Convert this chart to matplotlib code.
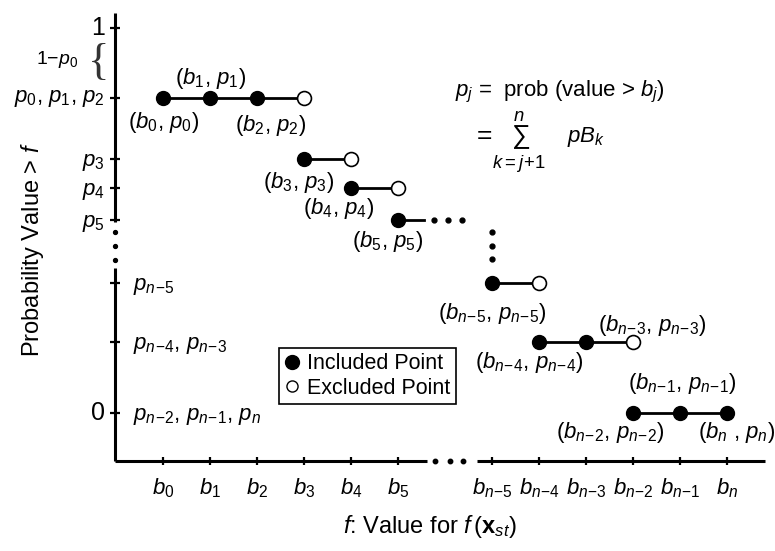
import matplotlib
matplotlib.use("Agg")
import matplotlib.pyplot as plt
from matplotlib.lines import Line2D

plt.rcParams['font.family'] = ['Liberation Sans', 'DejaVu Sans']
plt.rcParams['mathtext.fontset'] = 'custom'
plt.rcParams['mathtext.rm'] = 'Liberation Sans'
plt.rcParams['mathtext.it'] = 'Liberation Sans:italic'
plt.rcParams['mathtext.bf'] = 'Liberation Sans:bold'

# break-point positions on the f axis (gap of two slots for the "...")
b_pos = [0, 1, 2, 3, 4, 5, 7, 8, 9, 10, 11, 12]
b_names = ['0', '1', '2', '3', '4', '5', r'n\!-\!5', r'n\!-\!4', r'n\!-\!3',
           r'n\!-\!2', r'n\!-\!1', 'n']

# probability levels of the steps
p_levels = [0.818, 0.660, 0.584, 0.501, 0.338, 0.184, 0.0]
step_filled = [[0, 1, 2], [3], [4], [5], [7], [8, 9], [10, 11, 12]]
step_open = [3, 4, 5, None, 8, 10, None]
step5_end = 5.55
hdots_x = [5.77, 6.06, 6.36]
vdots_y = [0.470, 0.434, 0.400]

# axis pieces
yaxis_top = [1.039, 0.496]
yaxis_bot = [0.377, -0.125]
yaxis_dots = [0.470, 0.434, 0.397]
xaxis_left = [-1.02, 5.62]
xaxis_right = [6.68, 12.81]
xaxis_dots = [5.79, 6.11, 6.38]
ytick_vals = [1.0, 0.818, 0.660, 0.584, 0.501, 0.338, 0.184, 0.0]

fig = plt.figure(figsize=(7.75, 5.51), dpi=100)
ax = fig.add_axes([0, 0, 1, 1])
ax.set_xlim(-3.47, 13.02)
ax.set_ylim(-0.358, 1.073)
ax.axis('off')

x0 = xaxis_left[0]
y0 = yaxis_bot[1]

# axes
ax.plot([x0, x0], yaxis_top, color='black', lw=2.2, solid_capstyle='butt')
ax.plot([x0, x0], yaxis_bot, color='black', lw=2.2, solid_capstyle='butt')
ax.plot([x0] * 3, yaxis_dots, 'o', color='black', ms=2.8)
ax.plot(xaxis_left, [y0, y0], color='black', lw=2.2, solid_capstyle='butt')
ax.plot(xaxis_right, [y0, y0], color='black', lw=2.2, solid_capstyle='butt')
ax.plot(xaxis_dots, [y0] * 3, 'o', color='black', ms=3.2)
ax.plot([x0] * len(ytick_vals), ytick_vals, '_', color='black', ms=7, mew=1.6)
ax.plot(b_pos, [y0] * len(b_pos), '|', color='black', ms=6, mew=1.6)

# steps
for p, xs, xo in zip(p_levels, step_filled, step_open):
    xe = xo if xo is not None else xs[-1]
    if xs[-1] == 5:
        xe = step5_end
    ax.plot([xs[0], xe], [p, p], color='black', lw=2.0, zorder=2)
    ax.plot(xs, [p] * len(xs), 'o', color='black', ms=10, zorder=3)
    if xo is not None:
        ax.plot([xo], [p], 'o', mfc='white', mec='black', mew=1.2, ms=10, zorder=3)

ax.plot(hdots_x, [p_levels[3]] * 3, 'o', color='black', ms=3.5)
ax.plot([7] * 3, vdots_y, 'o', color='black', ms=3.5)

# point labels: (index into b_pos, level, dx px, dy px)
pt_labels = [(0, 0, 0, -24), (1, 0, 0, 20), (2, 0, 13, -27), (3, 1, -6, -23),
             (4, 2, -13, -20), (5, 3, -11, -21), (6, 4, 0, -30), (7, 5, -10, -20),
             (8, 5, 66, 17), (9, 6, -23, -19), (10, 6, 2, 30), (11, 6, 10, -19)]
for i, k, dx, dy in pt_labels:
    nm = b_names[i]
    if nm == 'n':
        txt = '($b_{n}$ , $p_{n}$)'
    else:
        txt = '($b_{%s}$, $p_{%s}$)' % (nm, nm)
    ax.annotate(txt, (b_pos[i], p_levels[k]), xytext=(dx, dy),
                textcoords='offset pixels', ha='center', va='center', fontsize=16)

# x tick labels
for xp, nm in zip(b_pos, b_names):
    ax.annotate('$b_{%s}$' % nm, (xp, y0), xytext=(0, -27), textcoords='offset pixels',
                ha='center', va='center', fontsize=16)

# y tick labels
left_labels = [(1.0, '1', 18), (0.818, '$p_0$, $p_1$, $p_2$', 16),
               (0.660, '$p_3$', 16), (0.584, '$p_4$', 16), (0.501, '$p_5$', 16),
               (0.0, '0', 18)]
for yv, txt, fs in left_labels:
    dy = -3 if txt.startswith('$p_') and yv < 0.8 else 0
    ax.annotate(txt, (x0, yv), xytext=(-10, dy), textcoords='offset pixels',
                ha='right', va='center', fontsize=fs)
right_labels = [(0.338, r'$p_{n\!-\!5}$'), (0.184, r'$p_{n\!-\!4}$, $p_{n\!-\!3}$'),
                (0.0, r'$p_{n\!-\!2}$, $p_{n\!-\!1}$, $p_n$')]
for yv, txt in right_labels:
    ax.annotate(txt, (x0, yv), xytext=(18, -3), textcoords='offset pixels',
                ha='left', va='center', fontsize=16)

# 1 - p0 brace
ax.annotate('{', (x0, 0.909), xytext=(-17, 0), textcoords='offset pixels',
            ha='center', va='center', fontsize=32, family='Liberation Serif',
            color='#333333')
ax.annotate('1$-p_0$', (x0, 0.909), xytext=(-37, 4), textcoords='offset pixels',
            ha='right', va='center', fontsize=14)

# formula
ax.text(455 / 775, 1 - 92 / 551, r'$p_j$ =  prob (value > $b_j$)',
        transform=ax.transAxes, ha='left', va='center', fontsize=16)
ax.text(472 / 775, 1 - 142 / 551, r'$=\!\sum_{k=j\!+\!1}^{n}$', transform=ax.transAxes,
        ha='left', va='center', fontsize=19)
ax.text(567 / 775, 1 - 137 / 551, '$pB_k$', transform=ax.transAxes,
        ha='left', va='center', fontsize=16)

# axis titles
ax.text(33 / 775, 1 - 250 / 551, 'Probability Value > $f$', transform=ax.transAxes,
        rotation=90, ha='center', va='center', fontsize=17)
ax.text(430 / 775, 1 - 526 / 551, r'$f$: Value for $f\,(\mathbf{x}_{st})$',
        transform=ax.transAxes, ha='center', va='center', fontsize=17)

# legend
handles = [Line2D([], [], marker='o', ls='none', color='black', ms=10),
           Line2D([], [], marker='o', ls='none', mfc='white', mec='black', mew=1.0, ms=8)]
leg = ax.legend(handles, ['Included Point', 'Excluded Point'], loc='upper left',
                bbox_to_anchor=(279 / 775, 1 - 348 / 551), borderaxespad=0,
                fontsize=15.5, fancybox=False, framealpha=1, edgecolor='black',
                handlelength=0.7, handletextpad=0.35, borderpad=0.25, labelspacing=0.15)
leg.get_frame().set_linewidth(1.2)

fig.savefig('out.png', dpi=100)
